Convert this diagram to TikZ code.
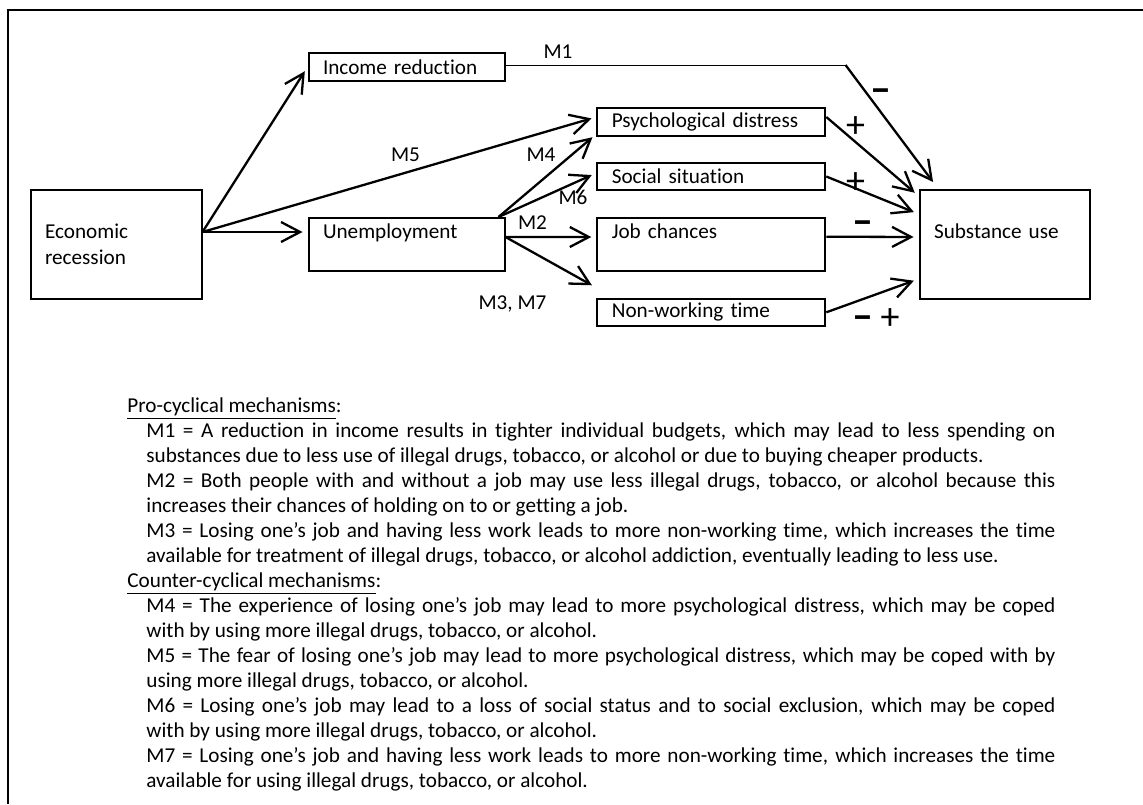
\documentclass[tikz,border=0pt]{standalone}
\usepackage{fontspec}
\setmainfont{Carlito}[Ligatures={TeX,NoCommon}]
\usetikzlibrary{arrows.meta}

\tikzset{
  box/.style={draw, line width=1pt, inner xsep=7.25pt, inner ysep=0pt, align=left,
    font=\fontsize{10.6}{13}\selectfont},
  arr/.style={line width=1.15pt, -{Straight Barb[length=9.5pt,width=10pt]}, shorten >=2.5pt},
  mlbl/.style={inner sep=0pt, font=\fontsize{10.6}{13}\selectfont},
  sgn/.style={inner sep=0pt, font=\fontsize{19}{19}\selectfont},
  neg/.style={inner sep=0pt, font=\fontsize{21}{21}\selectfont\bfseries},
  notes/.style={inner sep=0pt, text width=464pt, align=justify,
    font=\fontsize{10.6}{12.5}\selectfont},
}

\begin{document}
\begin{tikzpicture}[x=0.5pt, y=-0.5pt]
    \useasboundingbox (0,0) rectangle (1143,804);
    % frame: only the top and left edges are in view
    \draw[line width=1pt] (8,804) -- (8,10) -- (1143,10);

    % boxes
    \node[box, text width=71pt, minimum height=54.5pt] (econ) at (116,244.5) {Economic\\recession};
    \node[box, text width=83.5pt, minimum height=14pt] (income) at (406.5,67) {Income reduction};
    \node[box, text width=83.5pt, minimum height=26.5pt] (unemp) at (406.5,244.5) {Unemployment\\ ~};
    \node[box, text width=99.5pt, minimum height=14pt] (psych) at (711.3,122) {Psychological distress};
    \node[box, text width=99.5pt, minimum height=13.5pt] (social) at (711.3,176.5) {Social situation};
    \node[box, text width=99.5pt, minimum height=26.5pt] (job) at (711.3,244.2) {Job chances\\ ~};
    \node[box, text width=99.5pt, minimum height=13.5pt] (nonwork) at (711.3,312.3) {Non-working time};
    \node[box, text width=70.75pt, minimum height=54.5pt] (subst) at (1004.8,244.5) {Substance use\\ ~};

    % out of economic recession
    \coordinate (econOut) at ([yshift=6.25pt]econ.east);
    \draw[arr] (econOut) -- (income.west);
    \draw[arr] (econOut) -- ([yshift=6.25pt]unemp.west);
    \draw[arr] (econOut) -- ([yshift=2.5pt]psych.west); % M5

    % out of unemployment
    \coordinate (unempTop) at ([xshift=-3.5pt]unemp.north east);
    \coordinate (unempOut) at ([yshift=3.75pt]unemp.east);
    \coordinate (gapW) at ([yshift=-8pt]job.south west);
    \draw[arr] (unempTop) -- ([yshift=-6pt]psych.west); % M4
    \draw[arr] (unempTop) -- ([yshift=1.75pt]social.west); % M6
    \draw[arr] (unempOut) -- ([yshift=3.6pt]job.west); % M2
    \draw[arr] (unempOut) -- (gapW); % M3, M7

    % into substance use
    \coordinate (m1Bend) at ([xshift=170pt,yshift=1pt]income.east);
    \draw[line width=0.5pt] ([yshift=1pt]income.east) -- (m1Bend);
    \draw[arr] (m1Bend) -- ([xshift=8.75pt,yshift=1.5pt]subst.north west); % M1
    \draw[arr] ([yshift=2.5pt]psych.east) -- ([yshift=-3.5pt]subst.north west);
    \draw[arr] (social.east) -- ([yshift=-12.5pt]subst.north west);
    \draw[arr] ([yshift=3.75pt]job.east) -- ([yshift=3.75pt]subst.west);
    \draw[arr] (nonwork.east) -- ([yshift=-17.25pt]subst.west);

    % mechanism labels
    \node[mlbl] (lblM1) at (558,52) {M1};
    \node[mlbl] (lblM5) at (405.5,155) {M5};
    \node[mlbl] (lblM4) at (541,155) {M4};
    \node[mlbl] (lblM6) at (573,197) {M6};
    \node[mlbl] (lblM2) at (532.5,223) {M2};
    \node[mlbl] (lblM37) at (512.5,304) {M3, M7};

    % signs
    \node[neg] (sgnM1) at (881,96) {–};
    \node[sgn] (sgnPsych) at (855.6,127) {+};
    \node[sgn] (sgnSocial) at (855.6,183) {+};
    \node[neg] (sgnJob) at (863,228) {–};
    \node[neg] (sgnNonA) at (863,323) {–};
    \node[sgn] (sgnNonB) at (890,319) {+};

    % legend text
    \node[notes, anchor=base west] (legend) at (127,412) {%
      \tolerance=9999 \hbadness=10000
      \underline{Pro-cyclical mechanisms}:\par
      {\leftskip=9.5pt
      M1 = A reduction in income results in tighter individual budgets, which may lead to less spending on\linebreak
      substances due to less use of illegal drugs, tobacco, or alcohol or due to buying cheaper products.\par
      M2 = Both people with and without a job may use less illegal drugs, tobacco, or alcohol because this\linebreak
      increases their chances of holding on to or getting a job.\par
      M3 = Losing one’s job and having less work leads to more non-working time, which increases the time\linebreak
      available for treatment of illegal drugs, tobacco, or alcohol addiction, eventually leading to less use.\par}
      \underline{Counter-cyclical mechanisms}:\par
      {\leftskip=9.5pt
      M4 = The experience of losing one’s job may lead to more psychological distress, which may be coped\linebreak
      with by using more illegal drugs, tobacco, or alcohol.\par
      M5 = The fear of losing one’s job may lead to more psychological distress, which may be coped with by\linebreak
      using more illegal drugs, tobacco, or alcohol.\par
      M6 = Losing one’s job may lead to a loss of social status and to social exclusion, which may be coped\linebreak
      with by using more illegal drugs, tobacco, or alcohol.\par
      M7 = Losing one’s job and having less work leads to more non-working time, which increases the time\linebreak
      available for using illegal drugs, tobacco, or alcohol.\par}};
\end{tikzpicture}
\end{document}
